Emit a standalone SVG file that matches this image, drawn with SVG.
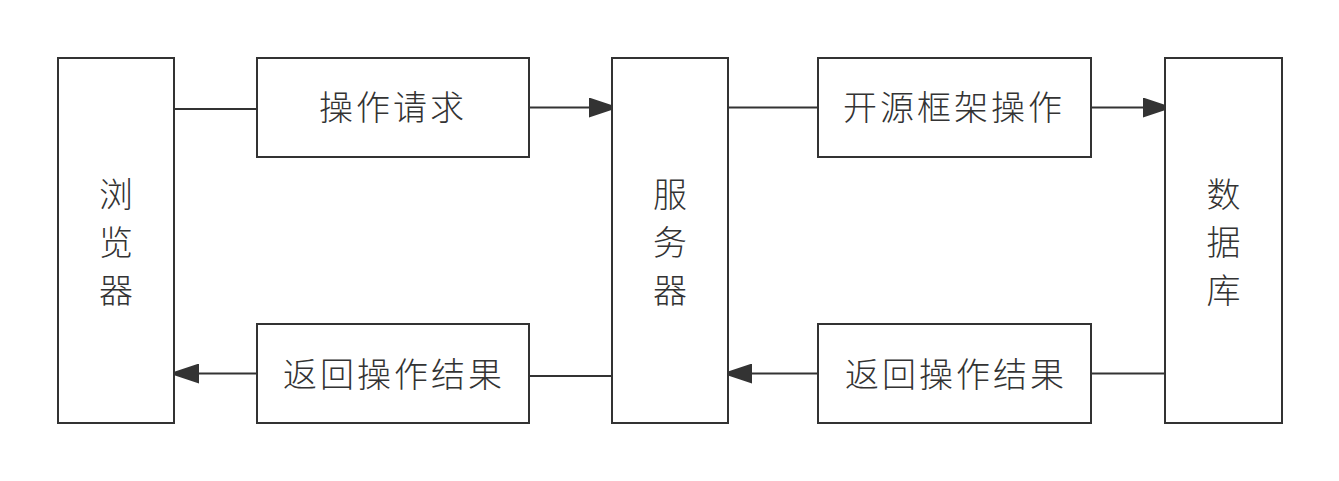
<svg xmlns="http://www.w3.org/2000/svg" width="1339" height="481" viewBox="0 0 1339 481">
<style>
.box{fill:#fff;stroke:#333;stroke-width:2}
.ln{fill:none;stroke:#333;stroke-width:2}
.t{font-family:"Noto Sans CJK SC","Noto Sans",sans-serif;font-size:34px;fill:#333;letter-spacing:3px;font-weight:300}
.v{font-family:"Noto Sans CJK SC","Noto Sans",sans-serif;font-size:34px;fill:#333;text-anchor:middle;font-weight:300}
</style>
<defs>
<marker id="ah" markerUnits="userSpaceOnUse" markerWidth="30" markerHeight="20" refX="30" refY="10" orient="auto">
<path d="M0,0 L30,10 L0,20 z" fill="#333"/>
</marker>
</defs>
<rect width="1339" height="481" fill="#fff"/>
<g id="connectors">
<line class="ln" x1="174" y1="109" x2="257" y2="109"/>
<line class="ln" x1="529" y1="107.5" x2="619" y2="107.5" marker-end="url(#ah)"/>
<line class="ln" x1="728" y1="107.5" x2="818" y2="107.5"/>
<line class="ln" x1="1091" y1="107.5" x2="1173" y2="107.5" marker-end="url(#ah)"/>
<line class="ln" x1="257" y1="373.5" x2="169" y2="373.5" marker-end="url(#ah)"/>
<line class="ln" x1="612" y1="376" x2="529" y2="376"/>
<line class="ln" x1="818" y1="373.5" x2="722" y2="373.5" marker-end="url(#ah)"/>
<line class="ln" x1="1165" y1="373.5" x2="1091" y2="373.5"/>
</g>
<g id="browser">
<rect class="box" x="58" y="58" width="116" height="365"/>
<text class="v" x="116" y="207">浏</text>
<text class="v" x="116" y="255">览</text>
<text class="v" x="116" y="303">器</text>
</g>
<g id="server">
<rect class="box" x="612" y="58" width="116" height="365"/>
<text class="v" x="670" y="207">服</text>
<text class="v" x="670" y="255">务</text>
<text class="v" x="670" y="303">器</text>
</g>
<g id="database">
<rect class="box" x="1165" y="58" width="117" height="365"/>
<text class="v" x="1223.5" y="207">数</text>
<text class="v" x="1223.5" y="255">据</text>
<text class="v" x="1223.5" y="303">库</text>
</g>
<g id="request">
<rect class="box" x="257" y="58" width="272" height="99"/>
<text class="t" x="319" y="120">操作请求</text>
</g>
<g id="framework">
<rect class="box" x="818" y="58" width="273" height="99"/>
<text class="t" x="843" y="120">开源框架操作</text>
</g>
<g id="result-left">
<rect class="box" x="257" y="324" width="272" height="99"/>
<text class="t" x="283" y="387">返回操作结果</text>
</g>
<g id="result-right">
<rect class="box" x="818" y="324" width="273" height="99"/>
<text class="t" x="845" y="387">返回操作结果</text>
</g>
</svg>
